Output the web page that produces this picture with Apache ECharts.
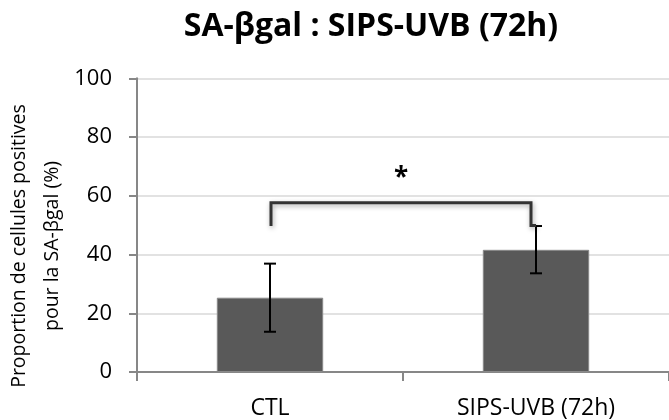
<!DOCTYPE html>
<html><head><meta charset="utf-8">
<script src="https://cdn.jsdelivr.net/npm/echarts@6/dist/echarts.min.js"></script>
<style>html,body{margin:0;padding:0;background:#fff}#c{width:669px;height:420px}</style>
</head><body><div id="c"></div>
<script>
const categories = ['CTL', 'SIPS-UVB (72h)'];
const means = [25.3, 41.6];
const errLow = [13.7, 33.6];
const errHigh = [36.9, 49.7];
const bracketLeftBottom = 49.7;
const bracketTop = 57.6;
const bracketRightBottom = 49.9;
const sigLabel = '*';
const sigLabelValue = 70.2;
const yNameLines = ['Proportion de cellules positives', 'pour la SA-βgal (%)'];

const FONT = 'Open Sans';
const chart = echarts.init(document.getElementById('c'));
chart.setOption({
  animation: false,
  title: {
    text: 'SA-βgal : SIPS-UVB (72h)',
    left: 366, top: 6, textAlign: 'center',
    textStyle: {fontFamily: FONT, fontWeight: 'bold', fontSize: 32, color: '#000'}
  },
  grid: {left: 137, top: 78.3, width: 538, height: 295},
  graphic: [{
    type: 'text', x: 19, y: 246, rotation: Math.PI / 2,
    style: {text: yNameLines[0], fontFamily: FONT, fontSize: 19.5, fill: '#000', align: 'center', verticalAlign: 'middle'}
  }, {
    type: 'text', x: 52, y: 246, rotation: Math.PI / 2,
    style: {text: yNameLines[1], fontFamily: FONT, fontSize: 19.5, fill: '#000', align: 'center', verticalAlign: 'middle'}
  }],
  xAxis: {
    type: 'category', data: categories,
    axisLine: {lineStyle: {color: '#878787', width: 2}},
    axisTick: {show: true, length: 9, lineStyle: {color: '#878787', width: 2}},
    axisLabel: {margin: 25, fontFamily: FONT, fontSize: 23, color: '#000'}
  },
  yAxis: {
    type: 'value', min: 0, max: 100, interval: 20,
    axisLine: {show: true, lineStyle: {color: '#878787', width: 2}},
    axisTick: {show: true, length: 8, lineStyle: {color: '#878787', width: 2}},
    splitLine: {lineStyle: {color: '#d9d9d9', width: 1.5}},
    axisLabel: {margin: 25, fontFamily: FONT, fontSize: 22, color: '#000'}
  },
  series: [{
    type: 'bar', data: means, barWidth: '40%',
    itemStyle: {color: '#595959', borderColor: '#8a8a8a', borderWidth: 1}
  }, {
    type: 'custom', z: 10,
    data: means.map((m, i) => [i, errLow[i], errHigh[i]]),
    renderItem: function (params, api) {
      const lo = api.coord([api.value(0), api.value(1)]);
      const hi = api.coord([api.value(0), api.value(2)]);
      const w = 6;
      const st = {stroke: '#000', lineWidth: 2};
      return {type: 'group', children: [
        {type: 'line', shape: {x1: lo[0], y1: lo[1], x2: hi[0], y2: hi[1]}, style: st},
        {type: 'line', shape: {x1: lo[0] - w, y1: lo[1], x2: lo[0] + w, y2: lo[1]}, style: st},
        {type: 'line', shape: {x1: hi[0] - w, y1: hi[1], x2: hi[0] + w, y2: hi[1]}, style: st}
      ]};
    }
  }, {
    type: 'custom', z: 11,
    data: [[0, 1, bracketLeftBottom, bracketTop, bracketRightBottom, sigLabelValue]],
    renderItem: function (params, api) {
      const a = api.coord([api.value(0), api.value(2)]);
      const t = api.coord([api.value(0), api.value(3)]);
      const b = api.coord([api.value(1), api.value(4)]);
      const s = api.coord([api.value(1), api.value(5)]);
      const xl = a[0] + 1, xr = b[0] - 5;
      return {type: 'group', children: [
        {type: 'polyline', shape: {points: [[xl, a[1]], [xl, t[1]], [xr, t[1]], [xr, b[1]], [b[0], b[1]]]},
          style: {stroke: '#333', lineWidth: 3, fill: null, shadowBlur: 5, shadowColor: 'rgba(0,0,0,0.35)', shadowOffsetY: 2, shadowOffsetX: 1}},
        {type: 'text', x: (xl + xr) / 2, y: s[1],
          style: {text: sigLabel, fontFamily: FONT, fontSize: 26, fontWeight: 'bold', fill: '#000', align: 'center', verticalAlign: 'top'}}
      ]};
    }
  }]
});
</script></body></html>
